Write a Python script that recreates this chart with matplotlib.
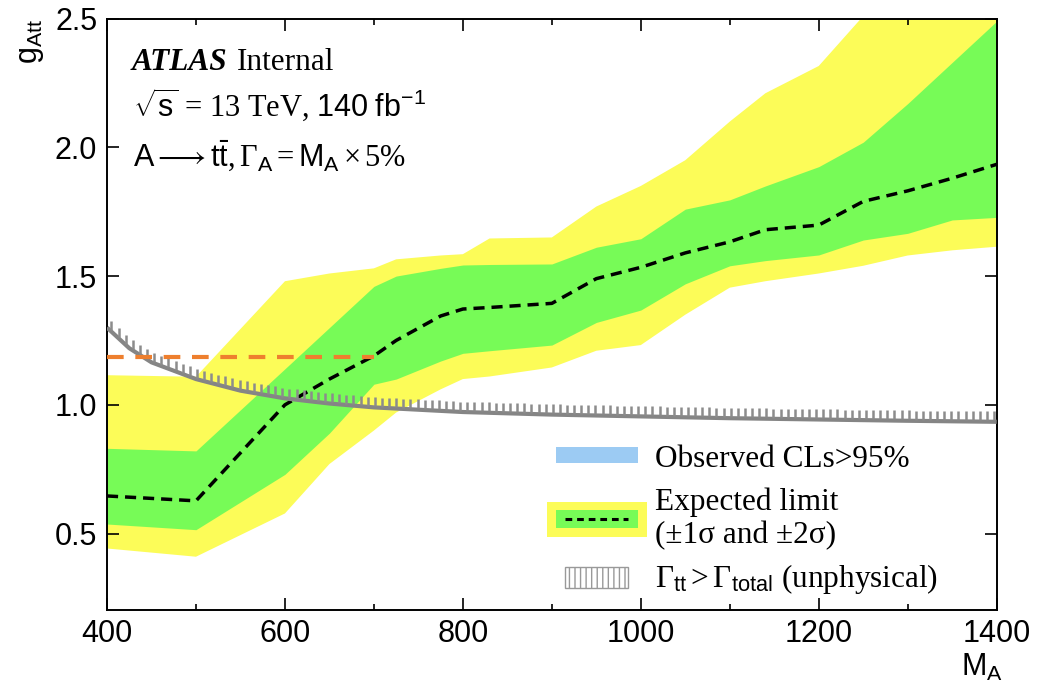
import numpy as np
import matplotlib
matplotlib.use("Agg")
import matplotlib.pyplot as plt
from matplotlib.patches import Rectangle
from matplotlib.lines import Line2D
from matplotlib.collections import LineCollection
from matplotlib.ticker import MultipleLocator

plt.rcParams['mathtext.fontset'] = 'custom'
plt.rcParams['mathtext.rm'] = 'Liberation Serif'
plt.rcParams['mathtext.it'] = 'Liberation Serif:italic'
plt.rcParams['mathtext.bf'] = 'Liberation Serif:bold'
plt.rcParams['mathtext.sf'] = 'Liberation Sans'
plt.rcParams['hatch.linewidth'] = 1.0

# ---------------- data ----------------
mass = [400, 500, 600, 650, 700, 725, 775, 800, 830, 900, 950, 1000,
        1050, 1100, 1140, 1200, 1250, 1300, 1350, 1400]
exp_median = [0.646, 0.627, 1.00, 1.10, 1.19, 1.25, 1.345, 1.372, 1.378, 1.394,
              1.49, 1.534, 1.59, 1.633, 1.68, 1.698, 1.79, 1.831, 1.88, 1.934]
exp_up1 = [0.831, 0.821, 1.14, 1.30, 1.46, 1.50, 1.53, 1.543, 1.545, 1.547,
           1.612, 1.645, 1.76, 1.796, 1.85, 1.925, 2.02, 2.17, 2.33, 2.49]
exp_dn1 = [0.537, 0.515, 0.73, 0.89, 1.08, 1.10, 1.17, 1.20, 1.21, 1.232,
           1.32, 1.368, 1.47, 1.54, 1.56, 1.582, 1.64, 1.666, 1.718, 1.728]
exp_up2 = [1.115, 1.109, 1.48, 1.51, 1.53, 1.565, 1.58, 1.585, 1.646, 1.65,
           1.77, 1.85, 1.95, 2.10, 2.21, 2.316, 2.51, 2.70, 2.90, 3.10]
exp_dn2 = [0.442, 0.41, 0.578, 0.77, 0.90, 0.97, 1.06, 1.10, 1.11, 1.145,
           1.21, 1.232, 1.35, 1.455, 1.48, 1.51, 1.54, 1.58, 1.60, 1.614]

unphys_mass = [400, 425, 450, 500, 550, 600, 650, 700, 800, 900, 1000,
               1100, 1200, 1300, 1400]
unphys_g = [1.30, 1.22, 1.165, 1.10, 1.055, 1.025, 1.005, 0.99, 0.972, 0.962,
            0.955, 0.948, 0.943, 0.938, 0.934]

orange_mass = [400, 700]
orange_g = [1.185, 1.185]

xticks = [400, 600, 800, 1000, 1200, 1400]
yticks = [0.5, 1.0, 1.5, 2.0, 2.5]

YELLOW = '#FCFC58'
GREEN = '#77FB57'
BLUE = '#9CCBF3'
GRAY = '#858585'
ORANGE = '#EE7F2E'

W, H = 1052, 683
fig = plt.figure(figsize=(W / 100, H / 100), dpi=100)

def fx(x):
    return x / W

def fy(y):
    return 1 - y / H

ax = fig.add_axes([fx(107), fy(609.5), fx(996.7) - fx(107), fy(18.6) - fy(609.5)])

ax.fill_between(mass, exp_dn2, exp_up2, color=YELLOW, lw=0, zorder=1)
ax.fill_between(mass, exp_dn1, exp_up1, color=GREEN, lw=0, zorder=2)
ax.plot(mass, exp_median, color='black', lw=2.5, dashes=(3.2, 2.0), zorder=4)

# unphysical boundary with hatch ticks
ax.plot(unphys_mass, unphys_g, color=GRAY, lw=3.0, zorder=5, solid_capstyle='butt')
tick_x = np.arange(405, 1400, 8.0)
tick_y = np.interp(tick_x, unphys_mass, unphys_g)
segs = [[(x, y + 0.005), (x, y + 0.040)] for x, y in zip(tick_x, tick_y)]
ax.add_collection(LineCollection(segs, colors='#8C8C8C', linewidths=1.8, zorder=5))

ax.plot(orange_mass, orange_g, color=ORANGE, lw=3.0, dashes=(4.0, 2.8), zorder=6)

ax.set_xlim(400, 1400)
ax.set_ylim(0.205, 2.5)
ax.set_xticks(xticks)
ax.set_yticks(yticks)
ax.xaxis.set_minor_locator(MultipleLocator(100))
ax.set_xticklabels([str(t) for t in xticks])
ax.set_yticklabels([f"{t:.1f}" for t in yticks])
ax.tick_params(which='both', direction='in', top=True, right=True, width=1.2)
ax.tick_params(which='major', length=8.5, labelsize=22, pad=7)
ax.tick_params(which='minor', length=4)
for lab in ax.get_xticklabels() + ax.get_yticklabels():
    lab.set_family('Liberation Sans')
for sp in ax.spines.values():
    sp.set_linewidth(1.4)

# axis labels
fig.text(fx(32), fy(19), r"$\mathsf{g_{Att}}$", rotation=90, ha='center', va='top',
         fontsize=22)
fig.text(fx(1003), fy(676), r"$\mathsf{M_A}$", ha='right', va='baseline', fontsize=22)

# ATLAS label
fig.text(fx(132), fy(70), "ATLAS", family='Liberation Serif', weight='bold',
         style='italic', fontsize=22.5, va='baseline')
fig.text(fx(237), fy(70), "Internal", family='Liberation Serif', fontsize=22.5,
         va='baseline')
fig.text(fx(133), fy(117), r"$\sqrt{\mathsf{s}}$ = 13 TeV, $\mathsf{140\ fb^{-1}}$",
         family='Liberation Serif', fontsize=22, va='baseline')
fig.text(fx(133), fy(167),
         r"$\mathsf{A}\longrightarrow\mathsf{t\bar{t}},\Gamma_{\mathsf{A}}=\mathsf{M}_{\mathsf{A}}\times5\%$",
         fontsize=22, va='baseline')

# legend (manual)
def frect(x0, y0, x1, y1, **kw):
    r = Rectangle((fx(x0), fy(y1)), fx(x1) - fx(x0), fy(y0) - fy(y1),
                  transform=fig.transFigure, zorder=10, **kw)
    fig.add_artist(r)

frect(556, 446.7, 637.7, 463.3, facecolor=BLUE, edgecolor='none')
frect(547.3, 501.7, 646.7, 537.3, facecolor=YELLOW, edgecolor='none')
frect(556, 510, 637.7, 528.3, facecolor=GREEN, edgecolor='none')
fig.add_artist(Line2D([fx(565), fx(628)], [fy(519), fy(519)], color='black', lw=2.2,
                      dashes=(2.2, 1.6), transform=fig.transFigure, zorder=11))
frect(565, 566.7, 628, 588.3, facecolor='white', edgecolor='#999999', hatch='|||', lw=1.0)

LFS = 22.5
fig.text(fx(655), fy(466.7), "Observed CLs>95%", family='Liberation Serif',
         fontsize=LFS, va='baseline', zorder=12)
fig.text(fx(655), fy(510), "Expected limit", family='Liberation Serif',
         fontsize=LFS, va='baseline', zorder=12)
fig.text(fx(655), fy(543.3), "(±1σ and ±2σ)", family='Liberation Serif',
         fontsize=LFS, va='baseline', zorder=12)
fig.text(fx(655), fy(586.7), r"$\Gamma_{\mathsf{tt}} > \Gamma_{\mathsf{total}}$ (unphysical)",
         family='Liberation Serif', fontsize=LFS, va='baseline', zorder=12)

fig.savefig("out.png", dpi=100)
